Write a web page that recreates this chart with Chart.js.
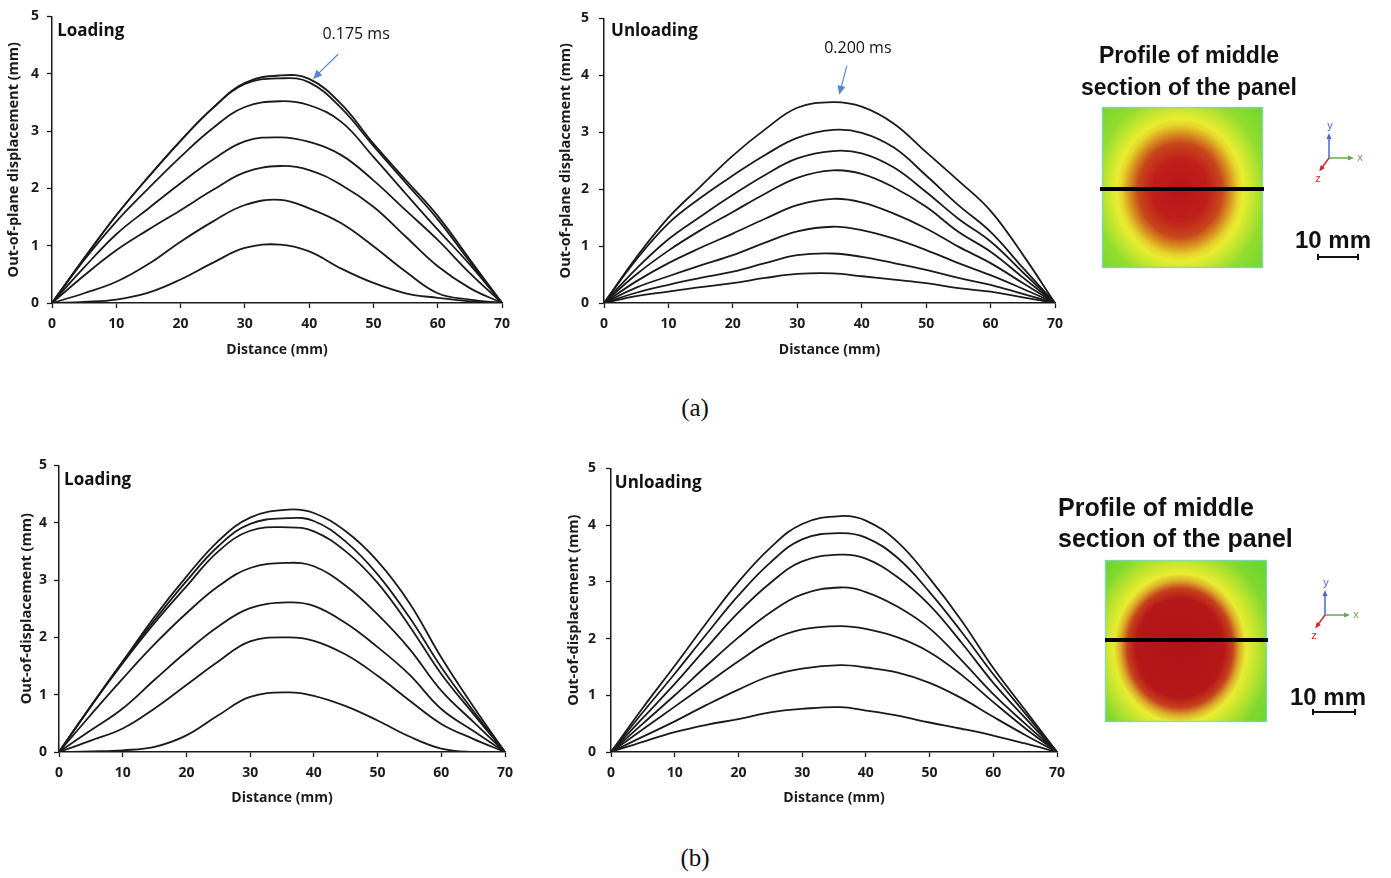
<!DOCTYPE html>
<html lang="en">
<head>
<meta charset="UTF-8">
<title>Out-of-plane displacement profiles</title>
<script src="https://cdn.jsdelivr.net/npm/chart.js"></script>
<style>
  body { margin:0; background:#fff; width:1391px; height:878px; overflow:hidden; position:relative; font-family:'Liberation Sans', Arial, sans-serif; }
  .box { position:absolute; }
  .cap { position:absolute; font-family:'Liberation Serif','Times New Roman',serif; font-size:25px; transform:translate(-50%,-50%); color:#111; }
  .head { position:absolute; font-weight:bold; color:#111; white-space:nowrap; }
  .scale { position:absolute; font-weight:bold; font-size:24px; color:#111; transform:translateY(-50%); }
</style>
</head>
<body>
<div class="box" style="left:0;top:0;width:520px;height:362px"><canvas id="loadA"></canvas></div>
<div class="box" style="left:552px;top:0;width:520px;height:362px"><canvas id="unloadA"></canvas></div>
<div class="box" style="left:7px;top:450px;width:515px;height:362px"><canvas id="loadB"></canvas></div>
<div class="box" style="left:559px;top:450px;width:515px;height:362px"><canvas id="unloadB"></canvas></div>

<canvas id="panels" width="321" height="878" style="position:absolute;left:1070px;top:0"></canvas>

<div class="head" style="left:1069px;top:39px;width:240px;font-size:23px;line-height:32px;text-align:center">Profile of middle<br>section of the panel</div>
<div class="head" style="left:1058px;top:492px;font-size:25px;line-height:31px">Profile of middle<br>section of the panel</div>
<div class="scale" style="left:1295px;top:240px">10 mm</div>
<div class="scale" style="left:1290px;top:697px">10 mm</div>

<div class="cap" style="left:695px;top:408px">(a)</div>
<div class="cap" style="left:695px;top:858px">(b)</div>

<script>
// distance along the middle section (mm)
const distA = [0, 5, 10, 15, 20, 25, 30, 35.5, 40, 45, 50, 55, 60, 65, 70];
const distB = [0, 5, 10, 15, 20, 25, 30, 36, 40, 45, 50, 55, 60, 65, 70];
const yTicks = [0, 1, 2, 3, 4, 5];
const xTicks = [0, 10, 20, 30, 40, 50, 60, 70];

// (a) loading, top curve = 0.175 ms
const loadingA = [
  [0, 0.78, 1.53, 2.20, 2.83, 3.40, 3.84, 3.97, 3.91, 3.47, 2.78, 2.15, 1.52, 0.76, 0],
  [0, 0.78, 1.53, 2.20, 2.83, 3.40, 3.82, 3.92, 3.85, 3.40, 2.74, 2.10, 1.46, 0.72, 0],
  [0, 0.75, 1.42, 2.00, 2.55, 3.05, 3.42, 3.52, 3.45, 3.16, 2.55, 1.91, 1.28, 0.67, 0],
  [0, 0.62, 1.20, 1.65, 2.09, 2.50, 2.82, 2.89, 2.81, 2.58, 2.14, 1.62, 1.10, 0.52, 0],
  [0, 0.48, 0.92, 1.28, 1.62, 1.97, 2.28, 2.39, 2.32, 2.06, 1.68, 1.16, 0.64, 0.26, 0],
  [0, 0.17, 0.37, 0.68, 1.07, 1.42, 1.71, 1.80, 1.65, 1.39, 0.99, 0.55, 0.17, 0.06, 0],
  [0, 0.02, 0.06, 0.18, 0.41, 0.70, 0.96, 1.02, 0.90, 0.60, 0.35, 0.17, 0.09, 0.03, 0]
];

// (a) unloading, top curve = 0.200 ms
const unloadingA = [
  [0, 0.80, 1.50, 2.05, 2.59, 3.05, 3.43, 3.53, 3.45, 3.15, 2.65, 2.15, 1.62, 0.85, 0],
  [0, 0.76, 1.40, 1.85, 2.24, 2.60, 2.90, 3.04, 2.99, 2.73, 2.24, 1.72, 1.25, 0.62, 0],
  [0, 0.60, 1.12, 1.52, 1.90, 2.25, 2.54, 2.67, 2.63, 2.38, 1.95, 1.48, 1.08, 0.54, 0],
  [0, 0.50, 0.92, 1.28, 1.60, 1.92, 2.20, 2.33, 2.27, 2.03, 1.69, 1.25, 0.90, 0.45, 0],
  [0, 0.38, 0.70, 0.97, 1.22, 1.48, 1.72, 1.83, 1.77, 1.57, 1.31, 0.99, 0.70, 0.35, 0],
  [0, 0.27, 0.47, 0.66, 0.84, 1.06, 1.26, 1.34, 1.28, 1.13, 0.93, 0.70, 0.49, 0.25, 0],
  [0, 0.18, 0.32, 0.44, 0.55, 0.70, 0.84, 0.87, 0.81, 0.70, 0.58, 0.44, 0.32, 0.16, 0],
  [0, 0.12, 0.20, 0.28, 0.35, 0.44, 0.51, 0.52, 0.47, 0.41, 0.35, 0.26, 0.20, 0.10, 0]
];

// (b) loading
const loadingB = [
  [0, 0.80, 1.58, 2.36, 3.06, 3.68, 4.09, 4.23, 4.17, 3.85, 3.33, 2.60, 1.65, 0.80, 0],
  [0, 0.80, 1.58, 2.30, 2.98, 3.59, 3.98, 4.08, 4.03, 3.67, 3.10, 2.35, 1.48, 0.72, 0],
  [0, 0.80, 1.55, 2.25, 2.89, 3.50, 3.86, 3.92, 3.85, 3.50, 2.95, 2.20, 1.36, 0.67, 0],
  [0, 0.65, 1.28, 1.88, 2.42, 2.89, 3.21, 3.30, 3.24, 2.90, 2.40, 1.80, 1.07, 0.53, 0],
  [0, 0.38, 0.76, 1.26, 1.75, 2.19, 2.51, 2.61, 2.55, 2.25, 1.83, 1.35, 0.75, 0.37, 0],
  [0, 0.20, 0.41, 0.76, 1.17, 1.58, 1.93, 2.00, 1.94, 1.70, 1.33, 0.90, 0.49, 0.23, 0],
  [0, 0.01, 0.03, 0.09, 0.29, 0.64, 0.96, 1.04, 0.98, 0.80, 0.55, 0.27, 0.06, 0.00, 0]
];

// (b) unloading
const unloadingB = [
  [0, 0.78, 1.52, 2.28, 3.00, 3.60, 4.02, 4.16, 4.08, 3.70, 3.06, 2.32, 1.48, 0.74, 0],
  [0, 0.70, 1.38, 2.08, 2.76, 3.34, 3.75, 3.86, 3.78, 3.42, 2.82, 2.12, 1.37, 0.68, 0],
  [0, 0.60, 1.20, 1.84, 2.46, 2.98, 3.36, 3.48, 3.41, 3.08, 2.59, 1.93, 1.22, 0.60, 0],
  [0, 0.50, 1.00, 1.52, 2.02, 2.46, 2.78, 2.90, 2.82, 2.56, 2.18, 1.62, 1.02, 0.50, 0],
  [0, 0.40, 0.80, 1.20, 1.60, 1.96, 2.16, 2.22, 2.17, 2.02, 1.76, 1.36, 0.88, 0.42, 0],
  [0, 0.27, 0.54, 0.83, 1.10, 1.34, 1.47, 1.53, 1.49, 1.40, 1.22, 0.95, 0.62, 0.30, 0],
  [0, 0.18, 0.35, 0.48, 0.58, 0.70, 0.76, 0.79, 0.73, 0.64, 0.52, 0.41, 0.29, 0.15, 0]
];

const FONT = "'Open Sans', 'Liberation Sans', sans-serif";

// panel title ("Loading") and the time arrow, placed in data units
const notesPlugin = {
  id: 'notes',
  afterDraw(chart, args, o) {
    const { ctx, scales: { x, y } } = chart;
    ctx.save();
    ctx.fillStyle = '#111';
    ctx.textBaseline = 'middle';
    ctx.font = 'bold 17px ' + FONT;
    ctx.fillText(o.title, x.getPixelForValue(o.titleAt[0]), y.getPixelForValue(o.titleAt[1]));
    if (o.time) {
      ctx.font = '16px ' + FONT;
      ctx.textAlign = 'center';
      ctx.fillText(o.time, x.getPixelForValue(o.timeAt[0]), y.getPixelForValue(o.timeAt[1]));
      const x0 = x.getPixelForValue(o.arrow[0]), y0 = y.getPixelForValue(o.arrow[1]);
      const x1 = x.getPixelForValue(o.arrow[2]), y1 = y.getPixelForValue(o.arrow[3]);
      const a = Math.atan2(y1 - y0, x1 - x0);
      ctx.strokeStyle = ctx.fillStyle = '#5b86c8';
      ctx.lineWidth = 1.2;
      ctx.beginPath();
      ctx.moveTo(x0, y0);
      ctx.lineTo(x1 - 6 * Math.cos(a), y1 - 6 * Math.sin(a));
      ctx.stroke();
      ctx.beginPath();
      ctx.moveTo(x1, y1);
      ctx.lineTo(x1 - 9 * Math.cos(a) + 4 * Math.sin(a), y1 - 9 * Math.sin(a) - 4 * Math.cos(a));
      ctx.lineTo(x1 - 9 * Math.cos(a) - 4 * Math.sin(a), y1 - 9 * Math.sin(a) + 4 * Math.cos(a));
      ctx.closePath();
      ctx.fill();
    }
    ctx.restore();
  }
};

function makeChart(id, dist, curves, yTitle, c) {
  return new Chart(document.getElementById(id), {
    type: 'line',
    data: {
      datasets: curves.map(vals => ({
        data: vals.map((v, i) => ({ x: dist[i], y: v })),
        borderColor: '#1a1a1a',
        borderWidth: 1.8,
        pointRadius: 0,
        tension: 0.4,
        fill: false
      }))
    },
    options: {
      responsive: true,
      maintainAspectRatio: false,
      animation: false,
      events: [],
      layout: { padding: { top: 15, right: c.right, left: 0, bottom: 0 } },
      plugins: {
        legend: { display: false },
        tooltip: { enabled: false },
        notes: c.notes
      },
      scales: {
        x: {
          type: 'linear', min: 0, max: 70,
          afterBuildTicks: s => { s.ticks = xTicks.map(v => ({ value: v })); },
          afterFit: s => { s.height = c.xh; },
          border: { color: '#1a1a1a', width: 1.5 },
          grid: { drawOnChartArea: false, color: '#1a1a1a', tickLength: 5, tickWidth: 1.3 },
          ticks: { color: '#1a1a1a', padding: 8, maxRotation: 0, font: { family: FONT, size: 14, weight: 'bold' } },
          title: { display: true, text: 'Distance (mm)', color: '#1a1a1a', padding: { top: 0, bottom: c.xtPad },
                   font: { family: FONT, size: 14, weight: 'bold' } }
        },
        y: {
          min: 0, max: 5,
          afterBuildTicks: s => { s.ticks = yTicks.map(v => ({ value: v })); },
          afterFit: s => { s.width = c.yw; },
          border: { color: '#1a1a1a', width: 1.5 },
          grid: { drawOnChartArea: false, color: '#1a1a1a', tickLength: 5, tickWidth: 1.3 },
          ticks: { color: '#1a1a1a', padding: c.ytPad, font: { family: FONT, size: 14, weight: 'bold' } },
          title: { display: true, text: yTitle, color: '#1a1a1a', padding: { top: c.yTitlePad, bottom: 0 },
                   font: { family: FONT, size: 14.5, weight: 'bold' } }
        }
      }
    },
    plugins: [notesPlugin]
  });
}

makeChart('loadA', distA, loadingA, 'Out-of-plane displacement (mm)', {
  right: 18, xh: 59, yw: 52, ytPad: 8, xtPad: 4, yTitlePad: 5,
  notes: { title: 'Loading', titleAt: [0.8, 4.74], time: '0.175 ms', timeAt: [47.3, 4.69], arrow: [44.5, 4.34, 40.6, 3.91] }
});
makeChart('unloadA', distA, unloadingA, 'Out-of-plane displacement (mm)', {
  right: 17, xh: 59, yw: 52, ytPad: 10, xtPad: 4, yTitlePad: 5,
  notes: { title: 'Unloading', titleAt: [1.1, 4.77], time: '0.200 ms', timeAt: [39.4, 4.48], arrow: [37.7, 4.17, 36.5, 3.66] }
});
makeChart('loadB', distB, loadingB, 'Out-of-displacement (mm)', {
  right: 17, xh: 60, yw: 52, ytPad: 7, xtPad: 6, yTitlePad: 11,
  notes: { title: 'Loading', titleAt: [0.8, 4.74] }
});
makeChart('unloadB', distB, unloadingB, 'Out-of-displacement (mm)', {
  right: 17, xh: 60, yw: 52, ytPad: 10, xtPad: 6, yTitlePad: 6,
  notes: { title: 'Unloading', titleAt: [0.6, 4.74] }
});

// contour pictures of the panel, coordinate triads and scale bars
const pc = document.getElementById('panels').getContext('2d');
const OX = 1070;

function heatSquare(x, y, size, cx, cy, stretch, stops) {
  pc.save();
  pc.beginPath();
  pc.rect(x - OX, y, size, size);
  pc.clip();
  pc.translate(cx - OX, cy);
  pc.scale(1, stretch);
  const g = pc.createRadialGradient(0, 0, 0, 0, 0, 110);
  stops.forEach(s => g.addColorStop(s[0], s[1]));
  pc.fillStyle = g;
  pc.fillRect(-150, -150, 300, 300);
  pc.restore();
  pc.strokeStyle = 'rgba(120,215,215,0.7)';
  pc.lineWidth = 1.5;
  pc.strokeRect(x - OX + 0.5, y + 0.5, size - 1, size - 1);
}

function sectionLine(x0, x1, y) {
  pc.strokeStyle = '#000';
  pc.lineWidth = 4;
  pc.beginPath();
  pc.moveTo(x0 - OX, y);
  pc.lineTo(x1 - OX, y);
  pc.stroke();
}

function arrowTo(x0, y0, x1, y1, col) {
  const a = Math.atan2(y1 - y0, x1 - x0);
  pc.strokeStyle = pc.fillStyle = col;
  pc.lineWidth = 1.5;
  pc.beginPath();
  pc.moveTo(x0, y0);
  pc.lineTo(x1, y1);
  pc.stroke();
  pc.beginPath();
  pc.moveTo(x1 + 3 * Math.cos(a), y1 + 3 * Math.sin(a));
  pc.lineTo(x1 - 3 * Math.cos(a) + 2.5 * Math.sin(a), y1 - 3 * Math.sin(a) - 2.5 * Math.cos(a));
  pc.lineTo(x1 - 3 * Math.cos(a) - 2.5 * Math.sin(a), y1 - 3 * Math.sin(a) + 2.5 * Math.cos(a));
  pc.closePath();
  pc.fill();
}

function triad(ox, oy) {
  const x = ox - OX;
  pc.font = '11px "Liberation Sans", Arial, sans-serif';
  pc.textAlign = 'center';
  pc.textBaseline = 'middle';
  arrowTo(x, oy, x, oy - 22, '#4a66c8');
  pc.fillText('y', x + 1, oy - 32);
  arrowTo(x, oy, x + 22, oy, '#6aa84f');
  pc.fillText('x', x + 31, oy);
  arrowTo(x, oy, x - 8, oy + 11, '#cc2a2a');
  pc.fillText('z', x - 11, oy + 21);
}

function scaleBar(x0, x1, y) {
  pc.strokeStyle = '#111';
  pc.lineWidth = 2;
  pc.beginPath();
  pc.moveTo(x0 - OX, y); pc.lineTo(x1 - OX, y);
  pc.moveTo(x0 - OX, y - 3); pc.lineTo(x0 - OX, y + 3);
  pc.moveTo(x1 - OX, y - 3); pc.lineTo(x1 - OX, y + 3);
  pc.stroke();
}

heatSquare(1102, 107, 161, 1180, 190, 1.12, [
  [0, '#b8141c'], [0.25, '#bf201a'], [0.38, '#c8461c'], [0.46, '#d8901f'], [0.53, '#e6d42a'],
  [0.58, '#e8ec30'], [0.66, '#c6e62e'], [0.78, '#90dc2e'], [1, '#74d62e']
]);
sectionLine(1100, 1264, 189);
triad(1329, 158);
scaleBar(1318, 1358, 257);

heatSquare(1105, 560, 162, 1180, 648, 1.13, [
  [0, '#b01218'], [0.40, '#b61818'], [0.48, '#c6421c'], [0.54, '#dca82a'],
  [0.60, '#e8ec30'], [0.70, '#c0e42e'], [0.84, '#80d82e'], [1, '#6cd430']
]);
sectionLine(1105, 1268, 640);
triad(1325, 615);
scaleBar(1313, 1355, 712);
</script>
</body>
</html>
